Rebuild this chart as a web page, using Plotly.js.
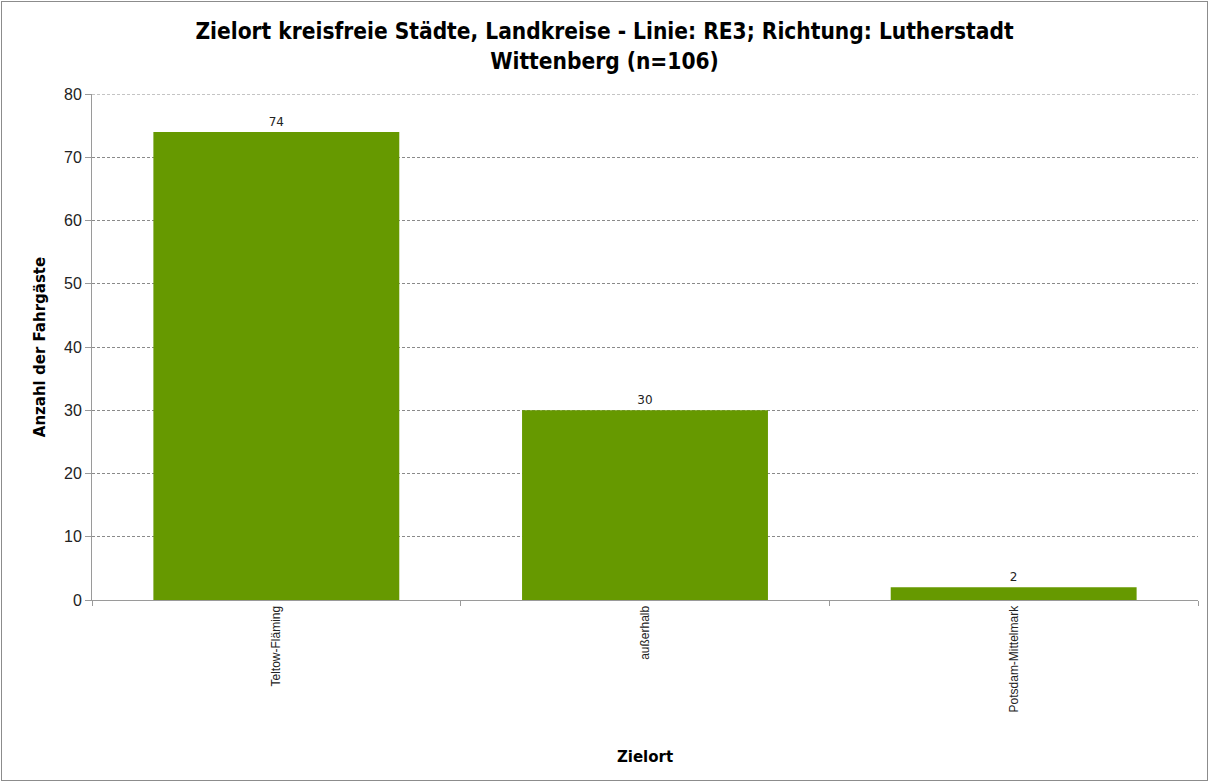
<!DOCTYPE html>
<html>
<head>
<meta charset="utf-8">
<script src="https://cdn.plot.ly/plotly-3.0.1.min.js"></script>
<style>
html,body{margin:0;padding:0;background:#fff;}
#chart{width:1205px;height:778px;border:1px solid #8c8c8c;margin:1px;}
</style>
</head>
<body>
<div id="chart"></div>
<script>
const categories = ["Teltow-Fläming", "außerhalb", "Potsdam-Mittelmark"];
const values = [74, 30, 2];
const yTicks = [0, 10, 20, 30, 40, 50, 60, 70, 80];
const yMax = 80;

const trace = {
  type: "bar",
  x: categories,
  y: values,
  text: values.map(String),
  textposition: "outside",
  cliponaxis: false,
  textfont: {family: "DejaVu Sans, sans-serif", size: 12, color: "#222"},
  marker: {color: "#669900", line: {width: 0}},
  hoverinfo: "x+y"
};

const layout = {
  width: 1205,
  height: 778,
  margin: {l: 90, r: 9, t: 92, b: 180},
  paper_bgcolor: "#fff",
  plot_bgcolor: "#fff",
  bargap: 0.333,
  showlegend: false,
  title: {
    text: "<b>Zielort kreisfreie Städte, Landkreise - Linie: RE3; Richtung: Lutherstadt<br>Wittenberg (n=106)</b>",
    font: {family: "DejaVu Sans Condensed, DejaVu Sans, sans-serif", size: 22.5, color: "#000"},
    x: 0.5, xanchor: "center", y: 0.952, yanchor: "top"
  },
  xaxis: {
    type: "category",
    tickangle: -90,
    tickfont: {family: "Liberation Sans, Arial, sans-serif", size: 12, color: "#222"},
    showline: true, linecolor: "#9a9a9a", linewidth: 1,
    ticks: "outside", tickson: "boundaries", ticklen: 5, tickcolor: "#9a9a9a",
    showgrid: false,
    title: {text: "<b>Zielort</b>", font: {family: "DejaVu Sans, sans-serif", size: 15, color: "#000"}, standoff: 40}
  },
  yaxis: {
    range: [0, yMax],
    tickvals: yTicks,
    ticktext: yTicks.map(String),
    tickfont: {family: "Liberation Sans, Arial, sans-serif", size: 16, color: "#222"},
    showline: true, linecolor: "#9a9a9a", linewidth: 1,
    ticks: "outside", ticklen: 6, tickcolor: "#9a9a9a",
    showgrid: true, gridcolor: "#8a8a8a", griddash: "3px,2px", gridwidth: 1,
    zeroline: false,
    title: {text: "<b>Anzahl der Fahrgäste</b>", font: {family: "DejaVu Sans, sans-serif", size: 15, color: "#000"}, standoff: 14}
  },
  shapes: [{
    type: "line", xref: "paper", yref: "y", x0: 0, x1: 1, y0: yMax, y1: yMax,
    line: {color: "#8a8a8a", width: 1, dash: "3px,2px"}
  }]
};

Plotly.newPlot("chart", [trace], layout, {displayModeBar: false, staticPlot: true});
</script>
</body>
</html>
